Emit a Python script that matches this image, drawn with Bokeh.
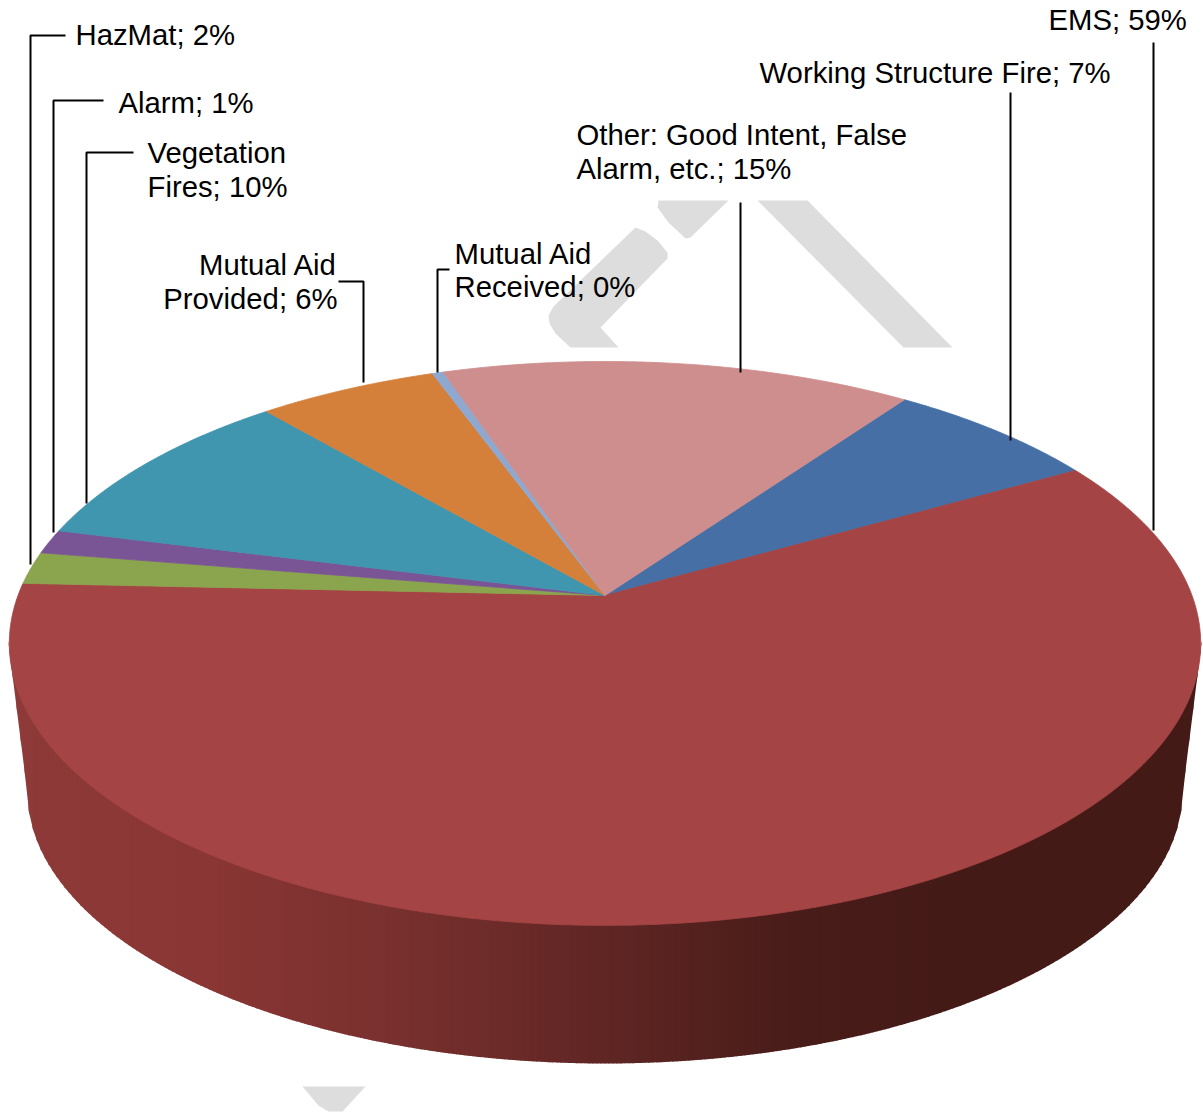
import math
from bokeh.plotting import figure
from bokeh.models import Range1d
from bokeh.core.properties import value
from bokeh.embed import file_html
from bokeh.resources import INLINE

# Data: slices clockwise, starting at the Working Structure Fire slice
categories = ["Working Structure Fire", "EMS", "HazMat", "Alarm", "Vegetation Fires",
              "Mutual Aid Provided", "Mutual Aid Received", "Other: Good Intent, False Alarm, etc."]
shares = [6.9, 58.95, 1.85, 1.4, 9.75, 5.75, 0.35, 15.05]
slice_colors = ["#4670A5", "#A54444", "#8BA54E", "#7A5596", "#3F96AE", "#D5803A", "#8FA8D0", "#CD8E8D"]
first_angle = 35.5

# Pie geometry in page pixels
cx, apex_y = 604.5, 595.0
persp_k, persp_f, persp_g = 0.170, 273.8, 587.0
wall_cy, wall_a, wall_b = 790.0, 578.0, 273.0
top_cy, top_a, top_b = 643.0, 596.5, 282.0
wall_stops = [(8, (142, 58, 56)), (200, (138, 54, 52)), (400, (120, 48, 46)),
              (600, (96, 38, 36)), (800, (72, 28, 25)), (950, (68, 26, 23)), (1201, (68, 26, 23))]

watermark = [
    [(757, 200), (807, 200), (952, 347), (903, 347)],
    [(658, 200), (728, 200), (690, 237), (685, 238), (668, 222), (657, 207)],
    [(635, 227), (645, 231), (657, 240), (667, 252), (667, 258), (600, 327), (618, 347), (570, 347),
     (555, 333), (549, 323), (548, 315), (553, 306)],
    [(302, 1086), (365, 1086), (342, 1111), (328, 1111), (318, 1105)],
]

# label lines, anchor x, centre y, alignment
labels = [
    (["Working Structure Fire; 7%"], 759, [72], "left"),
    (["EMS; 59%"], 1048, [19], "left"),
    (["HazMat; 2%"], 75, [34], "left"),
    (["Alarm; 1%"], 118, [102], "left"),
    (["Vegetation", "Fires; 10%"], 147, [152, 186], "left"),
    (["Mutual Aid", "Provided; 6%"], 337, [264, 298], "right"),
    (["Mutual Aid", "Received; 0%"], 454, [253, 286], "left"),
    (["Other: Good Intent, False", "Alarm, etc.; 15%"], 576, [134, 168], "left"),
]
leaders = [
    ([1010, 1010], [440, 92]),
    ([1153, 1153], [530, 42]),
    ([30, 30, 65], [564, 35, 35]),
    ([53, 53, 103], [532, 100, 100]),
    ([86, 86, 133], [503, 152, 152]),
    ([363, 363, 338], [382, 281, 281]),
    ([437, 437, 449], [372, 269, 269]),
    ([740, 740], [372, 202]),
]


def project(deg):
    t = math.radians(deg)
    u, v = math.sin(t), -math.cos(t)
    den = 1 - persp_k * v
    return cx + persp_g * u / den, apex_y + persp_f * v / den


def wall_color(x):
    for (x0, c0), (x1, c1) in zip(wall_stops, wall_stops[1:]):
        if x <= x1:
            f = (x - x0) / (x1 - x0)
            return "#%02x%02x%02x" % tuple(round(a + (b - a) * f) for a, b in zip(c0, c1))
    return "#%02x%02x%02x" % wall_stops[-1][1]


def top_lower(x):
    d = min(1.0, abs(x - cx) / top_a)
    return top_cy + top_b * math.sqrt(1 - d * d)


def wall_lower(x):
    dx = abs(x - cx)
    if dx >= wall_a:
        f = (dx - wall_a) / (top_a - wall_a)
        return wall_cy + (top_cy - wall_cy) * f
    d = dx / wall_a
    return wall_cy + wall_b * math.sqrt(1 - d * d)


p = figure(width=1203, height=1114, x_range=Range1d(0, 1203), y_range=Range1d(1114, 0),
           output_backend="svg", toolbar_location=None, min_border=0)
p.axis.visible = False
p.grid.visible = False
p.outline_line_color = None
p.background_fill_color = "white"

p.patches([[q[0] for q in s] for s in watermark], [[q[1] for q in s] for s in watermark],
          fill_color="#DDDDDD", line_color=None)

# Side wall: thin vertical strips, each overlapping the next
xs, ys, cols = [], [], []
step = 4.0
x = cx - top_a
while x < cx + top_a:
    x2 = min(x + step + 1, cx + top_a)
    xs.append([x, x2, x2, x])
    ys.append([top_lower(x) - 3, top_lower(x2) - 3, wall_lower(x2), wall_lower(x)])
    cols.append(wall_color((x + x2) / 2))
    x += step
p.patches(xs, ys, fill_color=cols, line_color=None)

# Top face
angle = first_angle
for share, col in zip(shares, slice_colors):
    sweep = share * 3.6
    n = max(3, int(sweep * 2))
    pts = [project(angle + sweep * i / n) for i in range(n + 1)]
    p.patch([cx] + [q[0] for q in pts], [apex_y] + [q[1] for q in pts],
            fill_color=col, line_color=col, line_width=0.8)
    angle += sweep

for lx, ly in leaders:
    p.line(lx, ly, line_color="black", line_width=2)

for lines, ax, cys, align in labels:
    p.text([ax] * len(lines), cys, text=lines, text_font=value("Liberation Sans"),
           text_font_size="29.3px", text_color="black", text_align=align, text_baseline="middle")

open("out.html", "w").write(file_html(p, INLINE))
